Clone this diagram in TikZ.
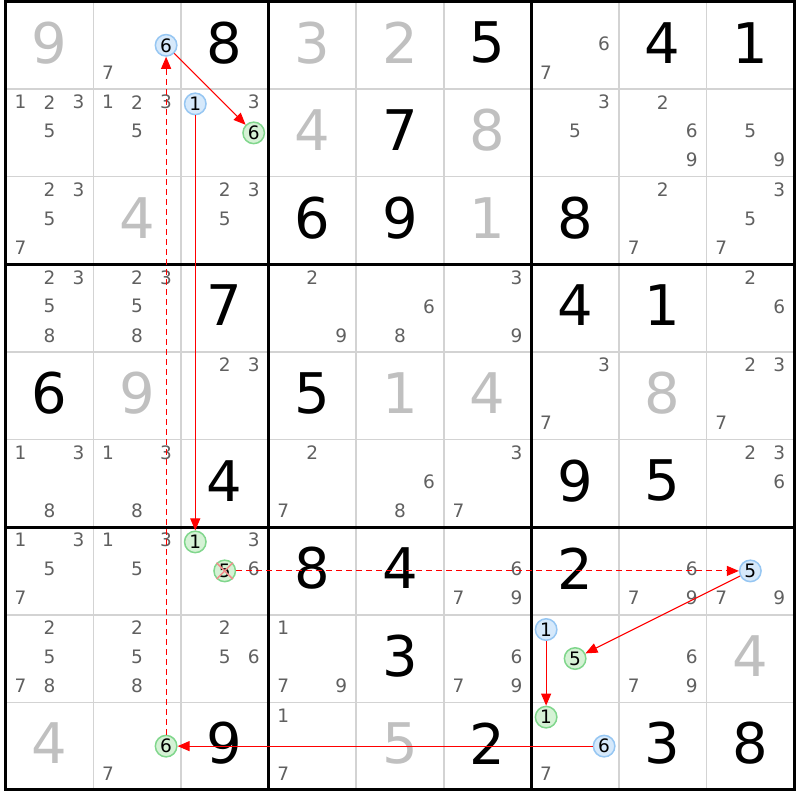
\documentclass[tikz,border=0pt]{standalone}
\usepackage{fontspec}
\setmainfont{DejaVu Sans}
\usetikzlibrary{arrows.meta}
\definecolor{solvedgray}{RGB}{192,192,192}
\definecolor{candgray}{RGB}{96,96,96}
\definecolor{thingrid}{RGB}{211,211,211}
\definecolor{bluefill}{RGB}{214,233,251}
\definecolor{blueline}{RGB}{150,198,242}
\definecolor{greenfill}{RGB}{213,242,213}
\definecolor{greenline}{RGB}{128,214,140}
\definecolor{linkred}{RGB}{255,0,0}
\definecolor{crosspink}{RGB}{242,140,140}
\tikzset{every picture/.style={line width=0.5pt}}
\tikzstyle{given}=[font=\fontsize{56}{60}\selectfont,text=black,inner sep=0pt]
\tikzstyle{solved}=[font=\fontsize{56}{60}\selectfont,text=solvedgray,inner sep=0pt]
\tikzstyle{cand}=[font=\fontsize{18.5}{20}\selectfont,text=candgray,inner sep=0pt]
\tikzstyle{oncand}=[circle,draw=blueline,fill=bluefill,line width=1.5pt,inner sep=0pt,minimum size=21.5pt,font=\fontsize{18.5}{20}\selectfont]
\tikzstyle{offcand}=[circle,draw=greenline,fill=greenfill,line width=1.5pt,inner sep=0pt,minimum size=21.5pt,font=\fontsize{18.5}{20}\selectfont]
\tikzstyle{link}=[draw=linkred,line width=1.1pt]
\tikzstyle{weaklink}=[draw=linkred,line width=1.1pt,dash pattern=on 6pt off 4pt]

\begin{document}
\begin{tikzpicture}[x=87.6pt,y=-87.6pt]
\useasboundingbox (-0.065,-0.017) rectangle (9.067,9.115);
\foreach \i in {1,2,4,5,7,8} {
  \draw[thingrid,line width=1.6pt] (\i,0) -- (\i,9);
  \draw[thingrid,line width=1.6pt] (0,\i) -- (9,\i);
}
\foreach \i in {0,3,6,9} {
  \draw[black,line width=3pt] (\i,-0.015) -- (\i,9.015);
  \draw[black,line width=3pt] (-0.015,\i) -- (9.015,\i);
}
\foreach \row/\col/\val in {1/3/8,1/6/5,1/8/4,1/9/1,2/5/7,3/4/6,3/5/9,3/7/8,
  4/3/7,4/7/4,4/8/1,5/1/6,5/4/5,6/3/4,6/7/9,6/8/5,7/4/8,7/5/4,7/7/2,
  8/5/3,9/3/9,9/6/2,9/8/3,9/9/8}
  \node[given] (g\row\col) at (\col-0.5,\row-0.53) {\val};
\foreach \row/\col/\val in {1/1/9,1/4/3,1/5/2,2/4/4,2/6/8,3/2/4,3/6/1,
  5/2/9,5/5/1,5/6/4,5/8/8,8/9/4,9/1/4,9/5/5}
  \node[solved] (s\row\col) at (\col-0.5,\row-0.53) {\val};
\foreach \row/\col/\ds in {1/2/{7},1/7/{6,7},
  2/1/{1,2,3,5},2/2/{1,2,3,5},2/3/{3},2/7/{3,5},2/8/{2,6,9},2/9/{5,9},
  3/1/{2,3,5,7},3/3/{2,3,5},3/8/{2,7},3/9/{3,5,7},
  4/1/{2,3,5,8},4/2/{2,3,5,8},4/4/{2,9},4/5/{6,8},4/6/{3,9},4/9/{2,6},
  5/3/{2,3},5/7/{3,7},5/9/{2,3,7},
  6/1/{1,3,8},6/2/{1,3,8},6/4/{2,7},6/5/{6,8},6/6/{3,7},6/9/{2,3,6},
  7/1/{1,3,5,7},7/2/{1,3,5},7/3/{3,6},7/6/{6,7,9},7/8/{6,7,9},7/9/{7,9},
  8/1/{2,5,7,8},8/2/{2,5,8},8/3/{2,5,6},8/4/{1,7,9},8/6/{6,7,9},8/8/{6,7,9},
  9/2/{7},9/4/{1,7},9/7/{7}}
  \foreach \dig in \ds {
    \pgfmathsetmacro\dx{mod(\dig-1,3)-1}
    \pgfmathsetmacro\dy{int((\dig-1)/3)-1}
    \node[cand] (k\row\col\dig) at ({\col-0.5+0.331*\dx},{\row-0.52+0.331*\dy}) {\dig};
  }
\node[oncand] (six12) at (1.831,0.5) {6};
\node[offcand] (six23) at (2.831,1.5) {6};
\node[oncand] (one23) at (2.164,1.169) {1};
\node[offcand] (one73) at (2.164,6.169) {1};
\node[offcand] (five73) at (2.5,6.5) {5};
\node[oncand] (five79) at (8.5,6.5) {5};
\node[oncand] (one87) at (6.169,7.169) {1};
\node[offcand] (five87) at (6.5,7.5) {5};
\node[offcand] (one97) at (6.169,8.169) {1};
\node[oncand] (six97) at (6.831,8.5) {6};
\node[offcand] (six92) at (1.831,8.5) {6};
\draw[crosspink,line width=1.5pt] (five73.north west) -- (five73.south east)
  (five73.north east) -- (five73.south west);
\path[->,>={Triangle[length=12pt,width=10pt]}]
(six12) edge[link] (six23)
(one23) edge[link] (one73)
(six92) edge[weaklink] (six12)
(five73) edge[weaklink] (five79)
(five79) edge[link] (five87)
(one87) edge[link] (one97)
(six97) edge[link] (six92);
\end{tikzpicture}
\end{document}
